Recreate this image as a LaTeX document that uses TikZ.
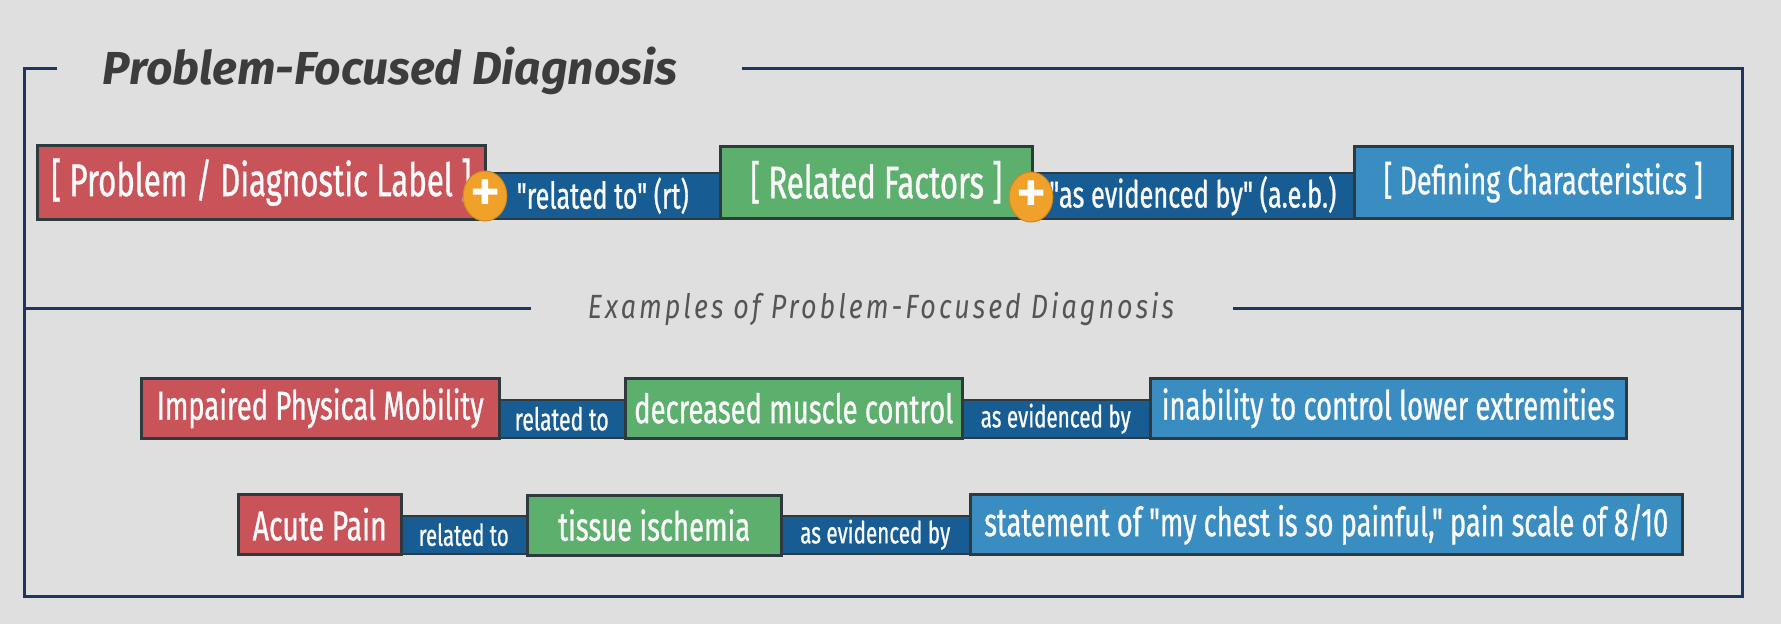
\documentclass[tikz,border=0pt]{standalone}
\usepackage{fontspec}
\usetikzlibrary{shapes.geometric}
\setmainfont{Fira Sans}
\newfontfamily\boxfont{Fira Sans}[FakeStretch=0.68, FakeBold=0.8]
\newfontfamily\titlefont{Fira Sans}
\newfontfamily\subfont{Fira Sans}[LetterSpace=9, FakeStretch=0.8]
\newfontfamily\plusfont{Fira Sans}[FakeBold=2]
\definecolor{bg}{HTML}{DFDFDF}
\definecolor{framec}{HTML}{1F3560}
\definecolor{redb}{HTML}{C8545A}
\definecolor{greenb}{HTML}{5CAF6C}
\definecolor{darkb}{HTML}{175C92}
\definecolor{lightb}{HTML}{3A8DC0}
\definecolor{orangec}{HTML}{F0A12A}
\definecolor{edgec}{HTML}{2F3A3F}
\definecolor{titlec}{HTML}{3C3C3C}
\definecolor{subc}{HTML}{555555}
\newcommand{\fitw}[2]{\resizebox{#1pt}{!}{#2}}
\tikzset{
  cbox/.style={draw=edgec, line width=2.5pt, inner sep=0pt, anchor=north west, text=white!96!gray, font=\boxfont},
  cband/.style={fill=darkb, draw=edgec, line width=1.5pt, inner sep=0pt, anchor=north west, text=white!96!gray, font=\boxfont},
  pluscirc/.style={ellipse, fill=orangec, draw=orangec!85!black, line width=1pt, minimum width=42pt, minimum height=50pt, inner sep=0pt, text=white, font=\plusfont\fontsize{62}{62}\selectfont},
  framel/.style={draw=framec, line width=3pt},
  txt/.style={inner sep=0pt}
}
\begin{document}
\begin{tikzpicture}[x=1pt,y=-1pt]
\useasboundingbox (0,0) rectangle (1781,624);
\fill[bg] (0,0) rectangle (1781,624);

% frame
\coordinate (ftl) at (24,68);
\coordinate (ftl2) at (57,68);
\coordinate (ftr1) at (742,68);
\coordinate (ftr) at (1742,68);
\coordinate (fbl) at (24,596);
\coordinate (fbr) at (1742,596);
\coordinate (fml) at (24,308);
\coordinate (fml2) at (531,308);
\coordinate (fmr1) at (1233,308);
\coordinate (fmr) at (1742,308);
\draw[framel, line cap=butt] (ftl2) -- (ftl) -- (fbl) -- (fbr) -- (ftr) -- (ftr1);
\draw[framel] (fml) -- (fml2);
\draw[framel] (fmr1) -- (fmr);

\node[txt, text=titlec] (title) at (390,71) {\fitw{574}{\titlefont\bfseries\itshape Problem-Focused Diagnosis}};
\node[txt, text=subc] (sub) at (881,309) {\fitw{586}{\subfont\itshape Examples of Problem-Focused Diagnosis}};

% top row
\node[cband, minimum width=240pt, minimum height=46pt] (c1) at (482,172) {\fitw{172}{"related to" (rt)}};
\node[cband, minimum width=326pt, minimum height=46pt] (c2) at (1029,172) {\fitw{287}{"as evidenced by" (a.e.b.)}};
\node[cbox, fill=redb, minimum width=448pt, minimum height=74pt] (p1) at (36,144) {\fitw{420}{[ Problem / Diagnostic Label ]}};
\node[cbox, fill=greenb, minimum width=312pt, minimum height=72pt] (p2) at (719,145) {\fitw{252}{[ Related Factors ]}};
\node[cbox, fill=lightb, minimum width=378pt, minimum height=72pt] (p3) at (1353,145) {\fitw{319}{[ Defining Characteristics ]}};
\node[pluscirc] (pl1) at (485,196) {+};
\node[pluscirc] (pl2) at (1031,197) {+};

% example 1
\node[cband, minimum width=128pt, minimum height=38pt] (e1c1) at (497,399) {\fitw{94}{related to}};
\node[cband, minimum width=190pt, minimum height=38pt] (e1c2) at (960,399) {\fitw{150}{as evidenced by}};
\node[cbox, fill=redb, minimum width=358pt, minimum height=60pt] (e1a) at (140,377) {\fitw{327}{Impaired Physical Mobility}};
\node[cbox, fill=greenb, minimum width=337pt, minimum height=60pt] (e1b) at (624,377) {\fitw{319}{decreased muscle control}};
\node[cbox, fill=lightb, minimum width=476pt, minimum height=60pt] (e1d) at (1149,377) {\fitw{453}{inability to control lower extremities}};

% example 2
\node[cband, minimum width=128pt, minimum height=38pt] (e2c1) at (399,515) {\fitw{90}{related to}};
\node[cband, minimum width=191pt, minimum height=38pt] (e2c2) at (779,515) {\fitw{150}{as evidenced by}};
\node[cbox, fill=redb, minimum width=163pt, minimum height=60pt] (e2a) at (237,493) {\fitw{134}{Acute Pain}};
\node[cbox, fill=greenb, minimum width=254pt, minimum height=60pt] (e2b) at (526,494) {\fitw{192}{tissue ischemia}};
\node[cbox, fill=lightb, minimum width=712pt, minimum height=60pt] (e2d) at (969,493) {\fitw{684}{statement of "my chest is so painful," pain scale of 8/10}};
\end{tikzpicture}
\end{document}
